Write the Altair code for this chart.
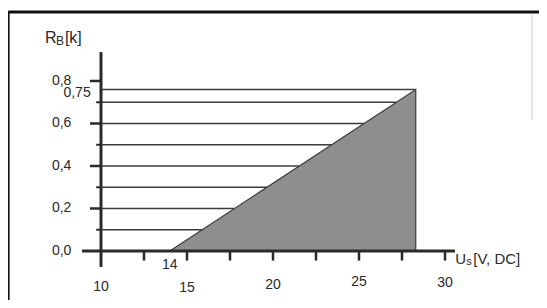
import altair as alt
import pandas as pd

# ---- data ----
grid_y = [0.1, 0.2, 0.3, 0.4, 0.5, 0.6, 0.7, 0.76]
tri_x = [14.0, 28.3, 28.3]
tri_y = [0.0, 0.76, 0.0]
x_tick_vals = [12.5, 15, 17.5, 20, 22.5, 25, 27.5, 30]
x_label_vals = [10, 15, 20, 25, 30]
x_label_txt = ["10", "15", "20", "25", "30"]
x_label_y = [-0.168, -0.172, -0.16, -0.147, -0.15]
y_major = [0.2, 0.4, 0.6, 0.8]
y_minor = [0.1, 0.3, 0.5, 0.7]
y_label_vals = [0.0, 0.2, 0.4, 0.6, 0.8]
y_label_txt = ["0,0", "0,2", "0,4", "0,6", "0,8"]

X0, X_START, X_END = 10.0, 14.0, 28.3
Y_TOP = 0.76

W, H = 531, 292
xs = alt.Scale(domain=[4.593, 35.465], nice=False, zero=False)
ys = alt.Scale(domain=[-0.2306, 1.1435], nice=False, zero=False)

def X(field="x", **kw):
    return alt.X(field, type="quantitative", scale=xs, axis=None, **kw)

def Y(field="y", **kw):
    return alt.Y(field, type="quantitative", scale=ys, axis=None, **kw)

INK = "#2a2a2a"
FONT = "Liberation Sans"
FS = 14

# triangle (allowed region)
tri = pd.DataFrame({"x": tri_x, "y": tri_y, "o": [0, 1, 2]})
area = alt.Chart(tri).mark_line(
    filled=True, fill="#8e8e8e", stroke="#3a3a3a", strokeWidth=1.2, interpolate="linear-closed"
).encode(x=X(), y=Y(), order="o:O")

# horizontal lines from y axis to hypotenuse
g = pd.DataFrame({"y": grid_y})
g["x"] = X0
g["x2"] = [X_START + v / Y_TOP * (X_END - X_START) for v in grid_y]
grid = alt.Chart(g).mark_rule(color="#3c3c3c", strokeWidth=1.4).encode(
    x=X(), x2="x2", y=Y()
)

# axes lines
axes_df = pd.DataFrame({
    "x": [8.9, X0], "x2": [30.58, X0], "y": [0.0, -0.075], "y2": [0.0, 0.936]
})
axes = alt.Chart(axes_df).mark_rule(color=INK, strokeWidth=3).encode(
    x=X(), x2="x2", y=Y(), y2="y2"
)

# x ticks
xt = pd.DataFrame({"x": x_tick_vals, "y": 0.0, "y2": -0.045})
xticks = alt.Chart(xt).mark_rule(color=INK, strokeWidth=2.5).encode(
    x=X(), y=Y(), y2="y2"
)

# y ticks
ytm = pd.DataFrame({"y": y_major, "x": 9.36, "x2": X0})
ytn = pd.DataFrame({"y": y_minor, "x": 9.72, "x2": X0})
yticks = alt.Chart(ytm).mark_rule(color=INK, strokeWidth=2.5).encode(x=X(), x2="x2", y=Y())
yticks2 = alt.Chart(ytn).mark_rule(color=INK, strokeWidth=2).encode(x=X(), x2="x2", y=Y())

# labels
yl = pd.DataFrame({"y": y_label_vals, "t": y_label_txt, "x": 8.28})
ylab = alt.Chart(yl).mark_text(align="right", baseline="middle", font=FONT, fontSize=FS, color=INK).encode(
    x=X(), y=Y(), text="t:N"
)
y75 = alt.Chart(pd.DataFrame({"x": [9.4], "y": [0.742], "t": ["0,75"]})).mark_text(
    align="right", baseline="middle", font=FONT, fontSize=FS, color=INK
).encode(x=X(), y=Y(), text="t:N")

xl = pd.DataFrame({"x": x_label_vals, "t": x_label_txt, "y": x_label_y})
xlab = alt.Chart(xl).mark_text(align="center", baseline="middle", font=FONT, fontSize=FS, color=INK).encode(
    x=X(), y=Y(), text="t:N"
)
x14 = alt.Chart(pd.DataFrame({"x": [14.0], "y": [-0.066], "t": ["14"]})).mark_text(
    align="center", baseline="middle", font=FONT, fontSize=FS, color=INK
).encode(x=X(), y=Y(), text="t:N")

# axis titles with subscripts
def titled(parts, x, y):
    layers = []
    for txt, dx, dy, fs in parts:
        layers.append(
            alt.Chart(pd.DataFrame({"x": [x], "y": [y], "t": [txt]})).mark_text(
                align="left", baseline="middle", font=FONT, fontSize=fs, color=INK, dx=dx, dy=dy
            ).encode(x=X(), y=Y(), text="t:N")
        )
    return layers

ytitle = titled([("R", 0, 0, FS + 2), ("B", 11, 3, 12), ("[k]", 20, 0, FS + 2)], 6.74, 1.0)
xtitle = titled([("U", 0, 0, FS + 1), ("s", 11, 3, 11), ("[V, DC]", 18, 0, FS + 1)], 30.6, -0.04)

# frame of the scanned figure + faint scan line
frame = alt.Chart(pd.DataFrame({
    "x": [4.6, 4.6, 35.06], "x2": [35.465, 4.6, 35.06],
    "y": [1.125, 1.125, 1.111], "y2": [1.125, -0.2306, 0.616],
    "c": ["#111111", "#111111", "#c8c8c8"], "w": [3, 3, 1]
})).mark_rule().encode(
    x=X(), x2="x2", y=Y(), y2="y2",
    color=alt.Color("c:N", scale=None), strokeWidth=alt.StrokeWidth("w:Q", scale=None)
)

chart = alt.layer(
    area, grid, axes, xticks, yticks, yticks2, ylab, y75, xlab, x14, *ytitle, *xtitle, frame
).properties(width=W, height=H, padding=0, autosize="none", background="white").configure_view(stroke=None)

chart.save("out.html", embed_options={"renderer": "svg", "actions": False})
